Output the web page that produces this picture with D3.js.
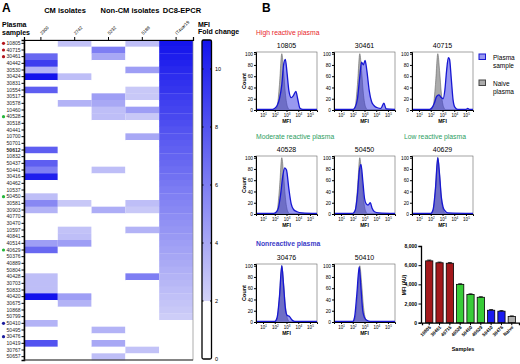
<!DOCTYPE html>
<meta charset="utf-8">
<style>
  body { margin: 0; background: #fff; }
  svg { font-family: "Liberation Sans", Arial, sans-serif; }
</style>
<div id="fig"></div>
<script src="https://d3js.org/d3.v7.min.js"></script>
<script>

// ---- panel A data: heatmap of MFI fold change ----
const samples = ["10805","40715","30461","40442","30530","30424","30831","10554","30517","30578","10460","40528",
  "30518","40441","10700","50701","50612","10832","50437","50441","30416","40462","10537","50450","30581","30903",
  "40770","30470","10597","40841","40514","40629","50376","40889","50804","40428","30703","50833","40420","30675",
  "10868","50799","50410","50495","30476","10419","30767","50657"];
const isolates = ["2300","2742","5232","5188","IT4var19"];
const col2300 = [0,0,7,9,3.5,11,0,7.5,0,0,0,0,0,0,0,0,7.5,0,7.5,6,10.5,0,0,3,5.5,3.5,0,0,0,0,4.5,7,0,0,0,3,3,3,11,0,0,0,3.5,0,0,8,0,0];
const col2742 = [2.8,0,0,0,0,3,0,0,0,3.5,0,0,0,0,0,0,0,0,0,0,0,0,0,0,2.5,0,0,0,2.8,3,4.5,0,0,0,0,0,0,0,4.5,3.5,0,0,0,0,0,0,0,0];
const col5232 = [0,6,4,0,0,0,0,0,4.5,4,3,3,0,0,0,0,0,0,0,3,0,0,0,0,0,3.8,0,0,0,0,0,0,0,0,0,0,0,0,0,0,0,0,0,3.5,0,4,0,3];
const col5188 = [3,0,0,0,4.5,0,0,2.5,2.5,0,4.5,2.5,0,0,4,0,0,0,0,0,0,0,0,0,3,2.5,0,0,3.5,0,0,0,0,0,0,6,0,0,0,0,0,0,0,0,0,0,2.8,0];
const colIT4 = [10.9,10.7,10.5,10.3,10.0,9.8,9.6,9.4,9.1,8.9,8.7,8.5,8.3,8.0,7.8,7.6,7.4,7.2,7.0,6.8,6.6,6.3,
  6.1,5.9,5.7,5.5,5.3,5.1,4.9,4.7,4.5,4.3,4.1,3.9,3.7,3.5,3.3,3.1,2.9,2.7,2.5,2.3,0,0,0,0,0,0];
const heatCols = [col2300, col2742, col5232, col5188, colIT4];
const highSamples = ["10805","40715","30461"];
const modSamples = ["40528","50450","40629"];
const nonSamples = ["50410","30476"];
const foldTicks = [0,2,4,6,8,10];

// ---- panel B data: histograms (log10 MFI, count) ----
const naiveCurve = [[0.4,0],[2.0,0],[2.2,6],[2.4,45],[2.6,100],[2.75,70],[2.9,30],[3.1,5],[3.3,0],[5.6,0]];
const hist10805 = [[0.4,1],[1.8,1],[2.0,3],[2.2,8],[2.4,20],[2.6,45],[2.75,80],[2.9,90],[3.05,65],[3.2,35],[3.4,22],[3.6,26],[3.8,33],[3.95,20],[4.15,3],[4.4,1],[5.6,1]];
const hist30461 = [[0.4,1],[2.0,1],[2.2,5],[2.4,20],[2.6,60],[2.75,85],[2.9,80],[3.05,88],[3.2,70],[3.4,35],[3.6,15],[3.8,8],[4.1,4],[4.4,3],[4.65,12],[4.85,2],[5.6,1]];
const hist40715 = [[0.4,1],[1.9,1],[2.1,4],[2.3,12],[2.5,24],[2.7,27],[2.9,22],[3.05,20],[3.2,35],[3.35,70],[3.5,93],[3.6,90],[3.75,55],[3.9,18],[4.05,5],[4.3,1],[5.0,1],[5.15,3],[5.3,1],[5.6,1]];
const hist40528 = [[0.4,1],[1.9,1],[2.1,3],[2.3,10],[2.5,35],[2.7,70],[2.85,82],[3.0,78],[3.2,45],[3.4,18],[3.6,8],[3.9,4],[4.3,2],[5.6,1]];
const hist50450 = [[0.4,1],[2.0,1],[2.2,6],[2.4,35],[2.55,75],[2.7,88],[2.85,60],[3.0,28],[3.15,18],[3.3,16],[3.5,20],[3.65,10],[3.85,4],[4.2,2],[5.6,1]];
const hist40629 = [[0.4,1],[2.0,1],[2.2,8],[2.4,45],[2.6,100],[2.75,70],[2.9,30],[3.05,12],[3.2,6],[3.45,2],[5.6,1]];
const hist30476 = [[0.4,1],[2.0,1],[2.2,8],[2.4,45],[2.6,100],[2.75,65],[2.9,25],[3.05,12],[3.25,10],[3.45,4],[3.7,1],[5.6,1]];
const hist50410 = [[0.4,1],[2.0,1],[2.15,8],[2.35,50],[2.55,98],[2.7,60],[2.85,20],[3.0,8],[3.2,3],[3.5,1],[5.6,1]];
const countTicks = [0,20,40,60,80,100];
const decades = [1,2,3,4,5];

// ---- panel B data: bar chart ----
const barSamples = ["10805","30461","40715","40528","50450","40629","50410","30476","Naive"];
const barMFI = [6450,6250,6200,4000,2950,2650,1300,1200,650];
const barErr = [80,70,70,60,60,60,70,60,60];
const barGroup = ["high","high","high","mod","mod","mod","non","non","naive"];
const mfiTicks = [0,2000,4000,6000,8000];

const svg = d3.select("#fig").append("svg")
  .attr("width", 520).attr("height", 364)
  .style("background", "#fff");

// ================= PANEL A =================
svg.append("text").attr("x", 2).attr("y", 12).text("A")
  .attr("font-size", 12).attr("font-weight", "bold");

let x = d3.scaleBand().domain(isolates).range([24, 193]);
let y = d3.scaleBand().domain(samples).range([40, 360]);
let color = d3.scaleLinear().domain([2, 11]).range(["#d3d3f8", "#1313ec"]).clamp(true);

let heat = svg.append("g");
heatCols.forEach(function(vals, ci) {
  heat.selectAll(null)
    .data(vals.map((v, i) => ({v: v, s: samples[i]})))
    .enter().append("rect")
      .attr("x", x(isolates[ci]))
      .attr("y", d => y(d.s))
      .attr("width", x.bandwidth())
      .attr("height", y.bandwidth() + 0.3)
      .attr("fill", d => d.v < 2 ? "#fff" : color(d.v));
});
heat.append("rect").attr("x", 24).attr("y", 40).attr("width", 169).attr("height", 320)
  .attr("fill", "none").attr("stroke", "#8a8a8a").attr("stroke-width", 0.7);

// group headers
[["CM isolates", 65], ["Non-CM isolates", 130], ["DC8-EPCR", 182]].forEach(function(h) {
  svg.append("text").attr("x", h[1]).attr("y", 13).text(h[0])
    .attr("text-anchor", "middle").attr("font-size", 7.5).attr("font-weight", "bold");
});
svg.append("text").attr("x", 2).attr("y", 27).text("Plasma").attr("font-size", 7).attr("font-weight", "bold");
svg.append("text").attr("x", 2).attr("y", 34.5).text("samples").attr("font-size", 7).attr("font-weight", "bold");

// top axis
let topAxis = svg.append("g").attr("transform", "translate(0,40)")
  .call(d3.axisTop(x).tickSize(3).tickFormat(""));
topAxis.select(".domain").attr("stroke-width", 1.2);
topAxis.selectAll(".tick").append("text")
  .attr("transform", "translate(1,-5) rotate(-45)")
  .attr("text-anchor", "start").attr("fill", "#000")
  .attr("font-size", 4.5).text(d => d);

// left axis
let leftAxis = svg.append("g").attr("transform", "translate(24,0)")
  .call(d3.axisLeft(y).tickSize(2.5).tickPadding(1));
leftAxis.select(".domain").attr("stroke-width", 1.5);
leftAxis.selectAll("text").attr("font-size", 5).attr("fill", "#222")
  .attr("font-weight", d => d === "50612" ? "bold" : "normal");

// bottom line
svg.append("line").attr("x1", 24).attr("x2", 193).attr("y1", 360).attr("y2", 360)
  .attr("stroke", "#333").attr("stroke-width", 1);

// group dots
let dots = [].concat(
  highSamples.map(s => [s, "#b3161c"]),
  modSamples.map(s => [s, "#25b53a"]),
  nonSamples.map(s => [s, "#1c1c9c"]));
svg.selectAll(".dot").data(dots).enter().append("circle")
  .attr("cx", 3.5).attr("cy", d => y(d[0]) + y.bandwidth() / 2).attr("r", 1.6)
  .attr("fill", d => d[1]);

// color bar
let cb = d3.scaleLinear().domain([0, 11]).range([359, 40]);
let defs = svg.append("defs");
let grad = defs.append("linearGradient").attr("id", "cbgrad")
  .attr("x1", 0).attr("x2", 0).attr("y1", 1).attr("y2", 0);
grad.append("stop").attr("offset", "0%").attr("stop-color", color(2));
grad.append("stop").attr("offset", "100%").attr("stop-color", color(11));
svg.append("rect").attr("x", 202).attr("y", cb(11)).attr("width", 9.5)
  .attr("height", cb(2) - cb(11)).attr("fill", "url(#cbgrad)");
svg.append("rect").attr("x", 202).attr("y", cb(11)).attr("width", 9.5)
  .attr("height", cb(0) - cb(11)).attr("rx", 1.5)
  .attr("fill", "none").attr("stroke", "#000").attr("stroke-width", 1.3);
svg.selectAll(".cbt").data(foldTicks).enter().append("g")
  .each(function(d) {
    let g = d3.select(this);
    if (d > 0) {
      g.append("line").attr("x1", 202).attr("x2", 203.5).attr("y1", cb(d)).attr("y2", cb(d)).attr("stroke", "#000");
      g.append("line").attr("x1", 210).attr("x2", 211.5).attr("y1", cb(d)).attr("y2", cb(d)).attr("stroke", "#000");
    }
    g.append("text").attr("x", 215).attr("y", cb(d) + 2).text(d).attr("font-size", 5.5);
  });
svg.append("text").attr("x", 198).attr("y", 27).text("MFI").attr("font-size", 7).attr("font-weight", "bold");
svg.append("text").attr("x", 198).attr("y", 33.5).text("Fold change").attr("font-size", 7).attr("font-weight", "bold");

// ================= PANEL B =================
svg.append("text").attr("x", 262).attr("y", 12).text("B")
  .attr("font-size", 12).attr("font-weight", "bold");

const sections = [
  ["High reactive plasma", 256, 35, "#e8262d", "normal"],
  ["Moderate reactive plasma", 256, 139, "#2e9e62", "normal"],
  ["Low reactive plasma", 404, 139, "#2e9e62", "normal"],
  ["Nonreactive plasma", 256, 246, "#3b3bc8", "bold"]
];
sections.forEach(function(s) {
  svg.append("text").attr("x", s[1]).attr("y", s[2]).text(s[0])
    .attr("font-size", 6.8).attr("fill", s[3]).attr("font-weight", s[4]);
});

const panelW = 61, panelH = 58;
const panels = [
  ["10805", hist10805, 256, 52], ["30461", hist30461, 334, 52], ["40715", hist40715, 412, 52],
  ["40528", hist40528, 256, 156], ["50450", hist50450, 334, 156], ["40629", hist40629, 412, 156],
  ["30476", hist30476, 256, 264], ["50410", hist50410, 334, 264]
];

let hx = d3.scaleLinear().domain([0.4, 5.6]).range([0, panelW]);
let hy = d3.scaleLinear().domain([0, 103]).range([panelH, 0]);
let area = d3.area().x(d => hx(d[0])).y0(panelH).y1(d => hy(d[1])).curve(d3.curveMonotoneX);
let line = d3.line().x(d => hx(d[0])).y(d => hy(d[1])).curve(d3.curveMonotoneX);

panels.forEach(function(p) {
  let g = svg.append("g").attr("transform", "translate(" + p[2] + "," + p[3] + ")");
  g.append("rect").attr("width", panelW).attr("height", panelH)
    .attr("fill", "none").attr("stroke", "#666").attr("stroke-width", 0.6);
  g.append("path").datum(naiveCurve).attr("d", area).attr("fill", "#ababab");
  g.append("path").datum(naiveCurve).attr("d", line).attr("fill", "none")
    .attr("stroke", "#666").attr("stroke-width", 0.6);
  g.append("path").datum(p[1]).attr("d", area).attr("fill", "rgba(50,50,225,0.5)");
  g.append("path").datum(p[1]).attr("d", line).attr("fill", "none")
    .attr("stroke", "#1717d2").attr("stroke-width", 1.3);

  let ya = g.append("g").call(d3.axisLeft(hy).tickValues(countTicks).tickSize(2).tickPadding(1));
  ya.select(".domain").attr("stroke-width", 1);
  ya.selectAll("text").attr("font-size", 4.8);
  let xa = g.append("g").attr("transform", "translate(0," + panelH + ")")
    .call(d3.axisBottom(hx).tickValues(decades).tickSize(2).tickFormat(""));
  xa.select(".domain").attr("stroke-width", 1);
  xa.selectAll(".tick").append("text").attr("y", 7).attr("fill", "#000")
    .attr("text-anchor", "middle").attr("font-size", 4.5)
    .each(function(d) {
      d3.select(this).append("tspan").text("10");
      d3.select(this).append("tspan").attr("dy", -2).attr("font-size", 3).text(d);
    });

  g.append("text").attr("x", panelW / 2).attr("y", -4).text(p[0])
    .attr("text-anchor", "middle").attr("font-size", 7);
  g.append("text").attr("x", panelW / 2).attr("y", panelH + 13).text("MFI")
    .attr("text-anchor", "middle").attr("font-size", 5).attr("font-weight", "bold");
  if (p[2] === 256) {
    g.append("text").attr("transform", "translate(-10," + panelH / 2 + ") rotate(-90)")
      .text("Count").attr("text-anchor", "middle").attr("font-size", 5.5).attr("font-weight", "bold");
  }
});

// legend
svg.append("rect").attr("x", 479).attr("y", 54).attr("width", 6.5).attr("height", 5.5)
  .attr("fill", "rgba(50,50,225,0.5)").attr("stroke", "#1717d2").attr("stroke-width", 1);
svg.append("text").attr("x", 493).attr("y", 60).text("Plasma").attr("font-size", 6.5);
svg.append("text").attr("x", 493).attr("y", 68).text("sample").attr("font-size", 6.5);
svg.append("rect").attr("x", 479).attr("y", 80).attr("width", 6.5).attr("height", 5.5)
  .attr("fill", "#ababab").attr("stroke", "#444").attr("stroke-width", 1);
svg.append("text").attr("x", 493).attr("y", 86).text("Naive").attr("font-size", 6.5);
svg.append("text").attr("x", 493).attr("y", 94).text("plasma").attr("font-size", 6.5);

// bar chart
let bx = d3.scaleBand().domain(barSamples).range([422, 519]).paddingInner(0.3).paddingOuter(0.35);
let by = d3.scaleLinear().domain([0, 8000]).range([322.7, 246]);
const barColor = {high: "#a3181b", mod: "#38cc38", non: "#1b1bef", naive: "#adadad"};

let bars = svg.append("g");
bars.selectAll("rect").data(barSamples).enter().append("rect")
  .attr("x", d => bx(d)).attr("y", (d, i) => by(barMFI[i]))
  .attr("width", bx.bandwidth()).attr("height", (d, i) => by(0) - by(barMFI[i]))
  .attr("fill", (d, i) => barColor[barGroup[i]]).attr("stroke", "#000").attr("stroke-width", 0.8);
bars.selectAll(".err").data(barSamples).enter().append("path")
  .attr("d", function(d, i) {
    let cx = bx(d) + bx.bandwidth() / 2, t = by(barMFI[i] + barErr[i]), b = by(barMFI[i]);
    return "M" + cx + "," + b + "V" + t + "M" + (cx - 2) + "," + t + "H" + (cx + 2);
  })
  .attr("stroke", "#000").attr("stroke-width", 0.8).attr("fill", "none");

let bya = svg.append("g").attr("transform", "translate(421,0)")
  .call(d3.axisLeft(by).tickValues(mfiTicks).tickSize(2.5).tickPadding(1.5));
bya.select(".domain").attr("stroke-width", 1.3);
bya.selectAll("text").attr("font-size", 5).attr("font-weight", "bold");
let bxa = svg.append("g").attr("transform", "translate(0,322.7)")
  .call(d3.axisBottom(bx).tickSize(2.5).tickFormat(""));
bxa.select(".domain").attr("stroke-width", 1.3);
bxa.selectAll(".tick").append("text")
  .attr("transform", "translate(2,5) rotate(-45)")
  .attr("text-anchor", "end").attr("fill", "#000")
  .attr("font-size", 4.6).attr("font-weight", "bold").text(d => d);

svg.append("text").attr("transform", "translate(406,285) rotate(-90)")
  .text("MFI (AU)").attr("text-anchor", "middle").attr("font-size", 5).attr("font-weight", "bold");
svg.append("text").attr("x", 463).attr("y", 351).text("Samples")
  .attr("text-anchor", "middle").attr("font-size", 5.5).attr("font-weight", "bold");

</script>
